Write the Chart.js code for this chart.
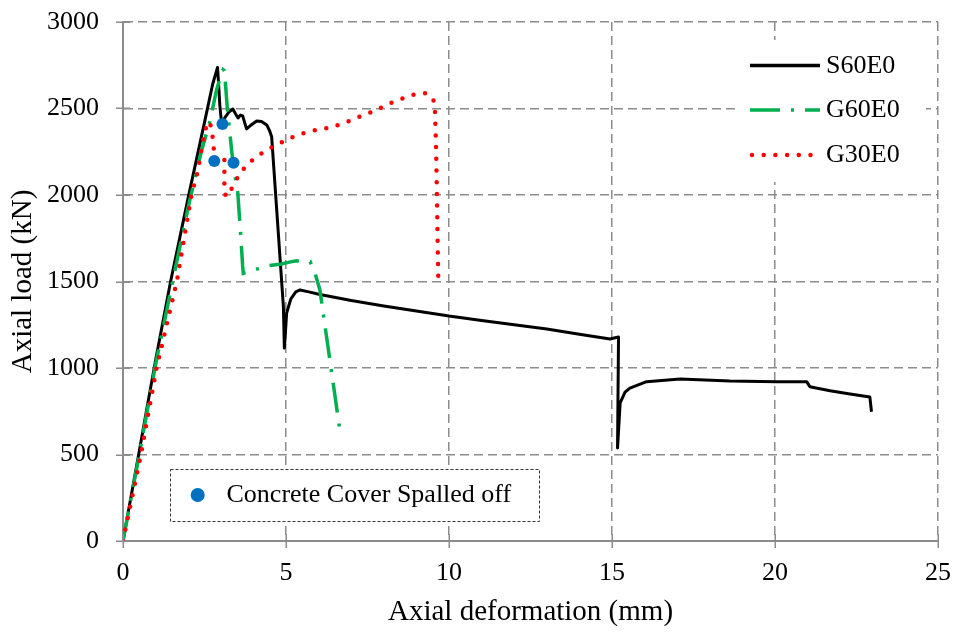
<!DOCTYPE html>
<html>
<head>
<meta charset="utf-8">
<script src="https://cdn.jsdelivr.net/npm/chart.js@4/dist/chart.umd.min.js"></script>
<style>
html,body{margin:0;padding:0;background:#fff;}
#wrap{width:958px;height:632px;}
</style>
</head>
<body>
<div id="wrap"><canvas id="c" width="958" height="632"></canvas></div>
<script>
// ---- Data ----
const xTicks = [0, 5, 10, 15, 20, 25];
const yTicks = [0, 500, 1000, 1500, 2000, 2500, 3000];

const seriesNames = ["S60E0", "G60E0", "G30E0"];
const spallLabel = "Concrete Cover Spalled off";

const s60x = [0, 0.25, 0.5, 0.75, 1.0, 1.46, 2.0, 2.5, 2.75, 2.9, 2.93, 2.97, 3.02, 3.1, 3.25, 3.37, 3.45, 3.53, 3.6, 3.67, 3.79, 3.9, 4.1, 4.25, 4.41, 4.5, 4.56, 4.92, 4.95, 4.98, 5.02, 5.15, 5.3, 5.43, 5.7, 6.04, 7, 8, 9, 10, 11, 12, 13, 14, 14.94, 15.1, 15.2, 15.17, 15.25, 15.4, 15.55, 16.06, 17.09, 18.62, 20.05, 20.97, 21.07, 21.69, 22.3, 22.91, 22.96];
const s60y = [0, 260, 520, 785, 1045, 1500, 1985, 2420, 2640, 2738, 2650, 2520, 2420, 2440, 2480, 2497, 2470, 2445, 2462, 2457, 2382, 2400, 2428, 2425, 2405, 2370, 2337, 1354, 1115, 1200, 1318, 1400, 1440, 1451, 1440, 1425, 1390, 1358, 1330, 1300, 1275, 1250, 1225, 1195, 1168, 1175, 1179, 538, 798, 860, 884, 921, 936, 925, 921, 921, 892, 869, 850, 832, 747];

const g60x = [0, 0.5, 1.0, 1.5, 2.0, 2.4, 2.65, 2.87, 3.0, 3.07, 3.11, 3.16, 3.2, 3.28, 3.33, 3.4, 3.52, 3.55, 3.6, 3.64, 3.67, 3.69, 4.0, 4.41, 4.87, 5.1, 5.32, 5.5, 5.74, 5.89, 6.04, 6.35, 6.66];
const g60y = [0, 500, 1020, 1480, 1930, 2250, 2414, 2607, 2690, 2725, 2719, 2600, 2500, 2356, 2260, 2150, 2018, 1933, 1800, 1682, 1590, 1547, 1565, 1590, 1601, 1612, 1620, 1615, 1615, 1549, 1451, 1040, 630];

const g30x = [0, 0.55, 1.03, 1.65, 2.1, 2.29, 2.43, 2.55, 2.65, 2.72, 2.77, 2.8, 2.9, 3.05, 3.11, 3.11, 3.18, 3.38, 3.54, 3.77, 4.03, 4.33, 4.64, 4.97, 5.28, 5.63, 5.97, 6.33, 6.66, 6.99, 7.32, 7.66, 7.98, 8.31, 8.65, 8.99, 9.29, 9.45, 9.52, 9.57, 9.6, 9.63, 9.65, 9.67];
const g30y = [0, 500, 1000, 1500, 2000, 2135, 2289, 2395, 2425, 2380, 2300, 2230, 2195, 2215, 2212, 2011, 1990, 2052, 2110, 2168, 2212, 2250, 2283, 2314, 2341, 2362, 2378, 2389, 2408, 2431, 2457, 2482, 2510, 2540, 2563, 2584, 2588, 2570, 2553, 2482, 2300, 2000, 1750, 1528];

const spallX = [3.05, 2.80, 3.39];
const spallY = [2410, 2197, 2187];

// ---- Build ----
const pts = (xs, ys) => xs.map((x, i) => ({x: x, y: ys[i]}));
const FONT = "'Liberation Serif', 'Times New Roman', serif";
const GRID = '#8c8c8c';
const BLACK = '#000000', GREEN = '#00B050', RED = '#FF0000', BLUE = '#0070C0';

const legendPlugin = {
  id: 'customLegend',
  beforeDatasetsDraw(chart) {
    const ctx = chart.ctx;
    ctx.save();
    // top-right legend background
    ctx.fillStyle = '#ffffff';
    ctx.fillRect(738, 40, 188, 142);
    // spalled box
    ctx.fillRect(170.5, 469.5, 369, 52);
    ctx.strokeStyle = '#333333';
    ctx.lineWidth = 1;
    ctx.setLineDash([3, 2]);
    ctx.strokeRect(170.5, 469.5, 369, 52);
    ctx.setLineDash([]);
    // blue marker
    ctx.fillStyle = BLUE;
    ctx.beginPath();
    ctx.arc(197.7, 495, 7, 0, Math.PI * 2);
    ctx.fill();
    ctx.fillStyle = '#000';
    ctx.font = '26px ' + FONT;
    ctx.textBaseline = 'middle';
    ctx.textAlign = 'left';
    ctx.fillText(spallLabel, 226.5, 495.5);

    // series legend
    const rows = [
      {y: 65.5, color: BLACK, width: 3.3, dash: [], cap: 'butt', x1: 750, x2: 820},
      {y: 110, color: GREEN, width: 3.5, dash: [30, 11, 3, 11], cap: 'butt', x1: 750, x2: 820},
      {y: 155, color: RED, width: 4.5, dash: [0, 11.7], cap: 'round', x1: 752, x2: 812}
    ];
    rows.forEach((r, i) => {
      ctx.strokeStyle = r.color;
      ctx.lineWidth = r.width;
      ctx.lineCap = r.cap;
      ctx.setLineDash(r.dash);
      ctx.beginPath();
      ctx.moveTo(r.x1, r.y);
      ctx.lineTo(r.x2, r.y);
      ctx.stroke();
      ctx.setLineDash([]);
      ctx.fillStyle = '#000';
      ctx.fillText(seriesNames[i], 826, r.y + 0.5);
    });
    ctx.restore();
  },
  afterDraw(chart) {
    // crossing tick marks on both axes
    const ctx = chart.ctx;
    const xs = chart.scales.x, ys = chart.scales.y;
    const area = chart.chartArea;
    ctx.save();
    ctx.strokeStyle = GRID;
    ctx.lineWidth = 1.5;
    ctx.beginPath();
    xTicks.forEach(v => {
      const px = Math.round(xs.getPixelForValue(v)) + 0.25;
      ctx.moveTo(px, area.bottom - 7);
      ctx.lineTo(px, area.bottom + 7);
    });
    yTicks.forEach(v => {
      const py = Math.round(ys.getPixelForValue(v)) + 0.25;
      ctx.moveTo(area.left - 7, py);
      ctx.lineTo(area.left + 7, py);
    });
    ctx.stroke();
    ctx.restore();
  }
};

const plainNum = (v) => String(v);

new Chart(document.getElementById('c'), {
  type: 'scatter',
  data: {
    datasets: [
      {
        label: spallLabel,
        data: pts(spallX, spallY),
        pointRadius: 6, pointHoverRadius: 6,
        pointBackgroundColor: BLUE, pointBorderColor: BLUE, pointBorderWidth: 0,
        showLine: false
      },
      {
        label: seriesNames[2],
        data: pts(g30x, g30y),
        showLine: true, pointRadius: 0, tension: 0,
        borderColor: RED, borderWidth: 4.5,
        borderDash: [0, 11.7], borderCapStyle: 'round', borderJoinStyle: 'round'
      },
      {
        label: seriesNames[1],
        data: pts(g60x, g60y),
        showLine: true, pointRadius: 0, tension: 0,
        borderColor: GREEN, borderWidth: 3.5,
        borderDash: [30, 11, 3, 11], borderCapStyle: 'butt'
      },
      {
        label: seriesNames[0],
        data: pts(s60x, s60y),
        showLine: true, pointRadius: 0, tension: 0,
        borderColor: BLACK, borderWidth: 3, borderJoinStyle: 'round'
      }
    ]
  },
  options: {
    responsive: false,
    animation: false,
    devicePixelRatio: 1,
    layout: {padding: {left: 0, top: 22, right: 20, bottom: 0}},
    plugins: {legend: {display: false}, tooltip: {enabled: false}},
    scales: {
      x: {
        type: 'linear', min: 0, max: 25,
        afterBuildTicks: (s) => { s.ticks = xTicks.map(v => ({value: v})); },
        afterFit: (s) => { s.height = 91; },
        ticks: {color: '#000', font: {family: FONT, size: 26}, padding: 0, callback: plainNum, maxRotation: 0},
        grid: {color: GRID, lineWidth: 1.5, tickLength: 17, tickColor: 'rgba(0,0,0,0)'},
        border: {display: true, color: GRID, width: 2, dash: [9, 5]},
        title: {display: true, text: 'Axial deformation (mm)', color: '#000',
                font: {family: FONT, size: 29}, padding: {top: 0, bottom: 2}}
      },
      y: {
        type: 'linear', min: 0, max: 3000,
        afterBuildTicks: (s) => { s.ticks = yTicks.map(v => ({value: v})); },
        afterFit: (s) => { s.width = 123; },
        ticks: {color: '#000', font: {family: FONT, size: 26}, padding: 0, callback: plainNum},
        grid: {color: GRID, lineWidth: 1.5, tickLength: 24, tickColor: 'rgba(0,0,0,0)'},
        border: {display: true, color: GRID, width: 2, dash: [9, 5]},
        title: {display: true, text: 'Axial load (kN)', color: '#000',
                font: {family: FONT, size: 29}, padding: {top: 6, bottom: 0}}
      }
    }
  },
  plugins: [legendPlugin]
});
</script>
</body>
</html>
